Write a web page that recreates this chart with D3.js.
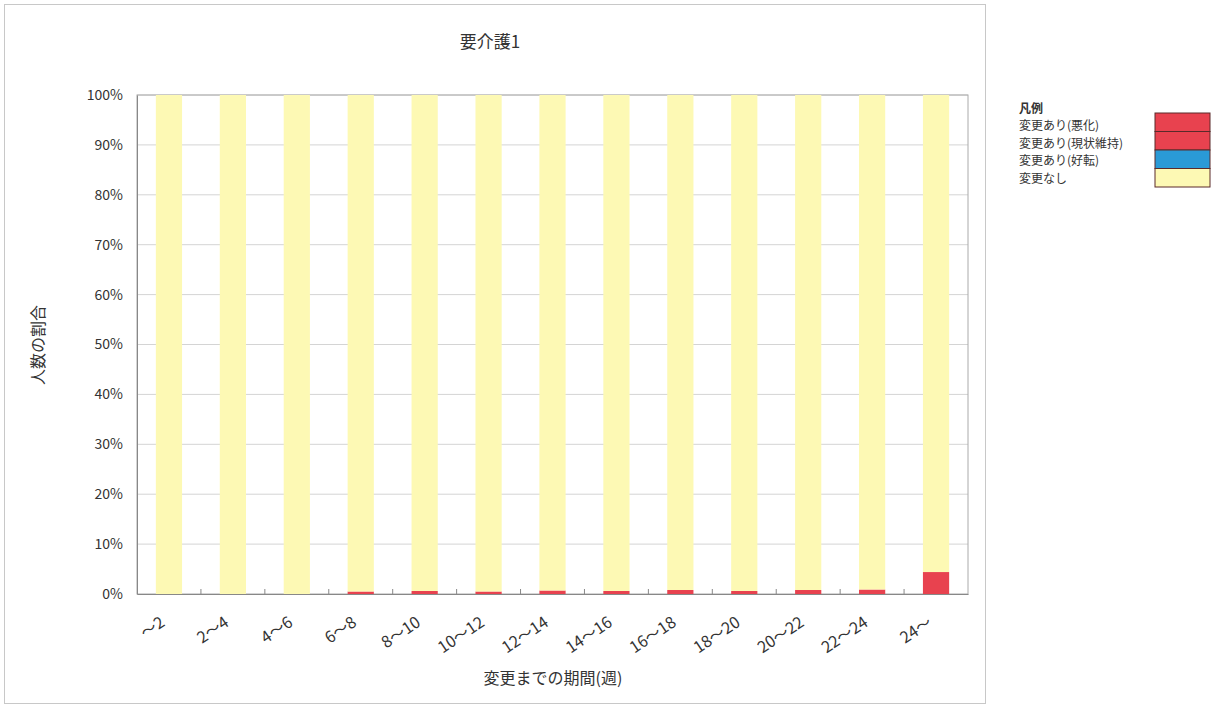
<!DOCTYPE html>
<html><head><meta charset="utf-8">
<script src="https://cdn.jsdelivr.net/npm/d3@7"></script>
<style>body{margin:0;background:#fff;}text{font-family:"Noto Sans CJK JP","Noto Sans",sans-serif;}</style>
</head><body><svg id="c" width="1218" height="708"></svg>
<script>
const categories = ["～2","2～4","4～6","6～8","8～10","10～12","12～14","14～16","16～18","18～20","20～22","22～24","24～"];
const worse = [0,0,0,0.5,0.6,0.5,0.7,0.6,0.8,0.6,0.8,0.9,4.4];
const maintain = [0,0,0,0,0,0,0,0,0,0,0,0,0];
const better = [0,0,0,0,0,0,0,0,0,0,0,0,0];
const seriesNames = ["変更あり(悪化)","変更あり(現状維持)","変更あり(好転)","変更なし"];
const colors = ["#e8424f","#e8424f","#2a9ad6","#fdf9b4"];
const yTicks = [0,10,20,30,40,50,60,70,80,90,100];

const none = categories.map((c,i)=>100-worse[i]-maintain[i]-better[i]);
const rows = categories.map((c,i)=>({cat:c, s0:worse[i], s1:maintain[i], s2:better[i], s3:none[i]}));
const stack = d3.stack().keys(["s0","s1","s2","s3"])(rows);

const svg = d3.select("#c");
svg.append("rect").attr("x",4.5).attr("y",4.5).attr("width",981).attr("height",699).attr("fill","#fff").attr("stroke","#c8c8c8");

const m = {l:137, r:968, t:95, b:594};
const x = d3.scaleBand().domain(categories).range([m.l,m.r]).paddingInner(0.59).paddingOuter(0.295);
const y = d3.scaleLinear().domain([0,100]).range([m.b,m.t]);

// gridlines
svg.append("g").selectAll("line").data(yTicks.filter(t=>t>0)).join("line")
  .attr("x1",m.l).attr("x2",m.r).attr("y1",d=>y(d)).attr("y2",d=>y(d)).attr("stroke","#d4d4d4");
svg.append("rect").attr("x",m.l).attr("y",m.t).attr("width",m.r-m.l).attr("height",m.b-m.t).attr("fill","none").attr("stroke","#aaa");

// bars
svg.append("g").selectAll("g").data(stack).join("g").attr("fill",(d,i)=>colors[i])
  .selectAll("rect").data(d=>d).join("rect")
  .attr("x",d=>x(d.data.cat)).attr("width",x.bandwidth())
  .attr("y",d=>y(d[1])).attr("height",d=>Math.max(0,y(d[0])-y(d[1])));

// axes
const ya = svg.append("g").attr("transform",`translate(${m.l},0)`)
  .call(d3.axisLeft(y).tickValues(yTicks).tickFormat(d=>d+"%").tickSize(0).tickPadding(14));
ya.select(".domain").attr("stroke","#888");
ya.selectAll("text").attr("font-size",14).attr("fill","#333").attr("font-family","Liberation Sans, Arial, sans-serif");

const xa = svg.append("g").attr("transform",`translate(0,${m.b})`)
  .call(d3.axisBottom(x).tickSize(0).tickFormat(""));
xa.select(".domain").attr("stroke","#888");
svg.append("g").selectAll("line").data(d3.range(1,categories.length)).join("line")
  .attr("x1",d=>m.l+d*(m.r-m.l)/categories.length).attr("x2",d=>m.l+d*(m.r-m.l)/categories.length)
  .attr("y1",m.b-5).attr("y2",m.b).attr("stroke","#888");

svg.append("g").selectAll("text").data(categories).join("text")
  .attr("transform",d=>`translate(${x(d)+x.bandwidth()/2-3},${m.b+31}) rotate(-34)`)
  .attr("text-anchor","end").attr("font-size",16).attr("fill","#333")
  .attr("font-family","Liberation Sans, Arial, sans-serif").text(d=>d);

// titles
svg.append("text").attr("x",490).attr("y",48).attr("text-anchor","middle").attr("font-size",17).attr("fill","#333").text("要介護1");
svg.append("text").attr("x",553).attr("y",684).attr("text-anchor","middle").attr("font-size",16).attr("fill","#333").text("変更までの期間(週)");
svg.append("text").attr("transform","translate(44,345) rotate(-90)").attr("text-anchor","middle").attr("font-size",16).attr("fill","#333").text("人数の割合");

// legend
const lg = svg.append("g");
lg.append("text").attr("x",1019).attr("y",113).attr("font-size",12).attr("font-weight","bold").attr("fill","#333").text("凡例");
seriesNames.forEach((n,i)=>{
  lg.append("text").attr("x",1019).attr("y",130+i*17.6).attr("font-size",12).attr("fill","#333").text(n);
  lg.append("rect").attr("x",1155).attr("y",113+i*18.5).attr("width",55).attr("height",18.5)
    .attr("fill",colors[i]).attr("stroke","#5a2a2a").attr("stroke-width",1);
});
</script></body></html>
